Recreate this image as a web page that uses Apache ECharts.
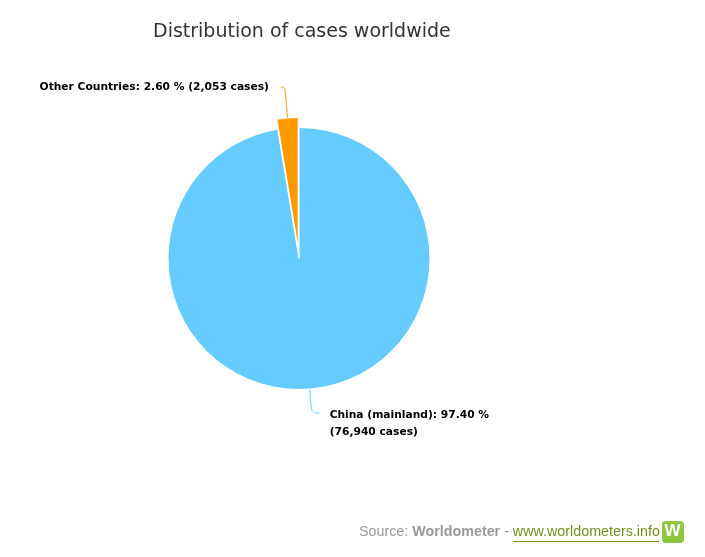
<!DOCTYPE html>
<html>
<head>
<meta charset="utf-8">
<script src="https://cdn.jsdelivr.net/npm/echarts@6/dist/echarts.min.js"></script>
<style>
html,body{margin:0;padding:0;background:#fff;}
#chart{width:705px;height:557px;}
</style>
</head>
<body>
<div id="chart"></div>
<script>
var categories = ['China (mainland)', 'Other Countries'];
var cases = [76940, 2053];
var percents = [97.40, 2.60];
var colors = ['#66CCFF', '#FF9900'];

function fmt(n){ return n.toString().replace(/\B(?=(\d{3})+(?!\d))/g, ','); }

var chart = echarts.init(document.getElementById('chart'), null, {renderer:'canvas'});
var data = categories.map(function(c,i){
  var item = {
    name: c,
    value: cases[i],
    selected: i === 1,
    itemStyle: {color: colors[i]}
  };
  if (i === 0) {
    item.label = {formatter: c + ': ' + percents[i].toFixed(2) + ' %\n(' + fmt(cases[i]) + ' cases)', align: 'left', distanceToLabelLine: 10};
    item.labelLine = {length: 24, length2: 8, lineStyle: {color: colors[i]}};
  } else {
    item.label = {formatter: c + ': ' + percents[i].toFixed(2) + ' % (' + fmt(cases[i]) + ' cases)', distanceToLabelLine: 12};
    item.labelLine = {length: 31, length2: 4, lineStyle: {color: colors[i]}};
  }
  return item;
});

chart.setOption({
  animation: false,
  backgroundColor: '#fff',
  title: {
    text: 'Distribution of cases worldwide',
    left: 148, top: 18,
    textStyle: {fontFamily: 'DejaVu Sans', fontSize: 19, fontWeight: 'normal', color: '#333333'}
  },
  series: [{
    type: 'pie',
    center: [299, 258.5],
    radius: 131,
    startAngle: 90,
    clockwise: true,
    selectedMode: 'single',
    selectedOffset: 10,
    itemStyle: {borderColor: '#fff', borderWidth: 1},
    emphasis: {disabled: true},
    label: {
      show: true,
      position: 'outside',
      fontFamily: 'DejaVu Sans',
      fontSize: 10.7,
      fontWeight: 'bold',
      color: '#000',
      lineHeight: 17
    },
    labelLine: {show: true, smooth: 0.4, lineStyle: {width: 1}},
    labelLayout: function (p) {
      return p.dataIndex === 0 ? {dy: 11} : {};
    },
    data: data
  }],
  graphic: [
    {
      type: 'text', left: 359, top: 525,
      style: {
        rich: {
          a: {fontFamily: 'Liberation Sans', fontSize: 14.3, fill: '#999999'},
          b: {fontFamily: 'Liberation Sans', fontSize: 14.3, fill: '#999999', fontWeight: 'bold'},
          c: {fontFamily: 'Liberation Sans', fontSize: 14.3, fill: '#6e911f'}
        },
        text: '{a|Source: }{b|Worldometer}{a| - }{c|www.worldometers.info}'
      }
    },
    {type: 'line', shape: {x1: 513, y1: 541.5, x2: 659, y2: 541.5}, style: {stroke: '#6e911f', lineWidth: 1}},
    {type: 'rect', shape: {x: 662, y: 521, width: 22, height: 22, r: 4}, style: {fill: '#8dc63f'}},
    {type: 'text', left: 664.5, top: 523, style: {text: 'W', fontFamily: 'Liberation Sans', fontSize: 17, fontWeight: 'bold', fill: '#fff'}}
  ]
});
</script>
</body>
</html>
